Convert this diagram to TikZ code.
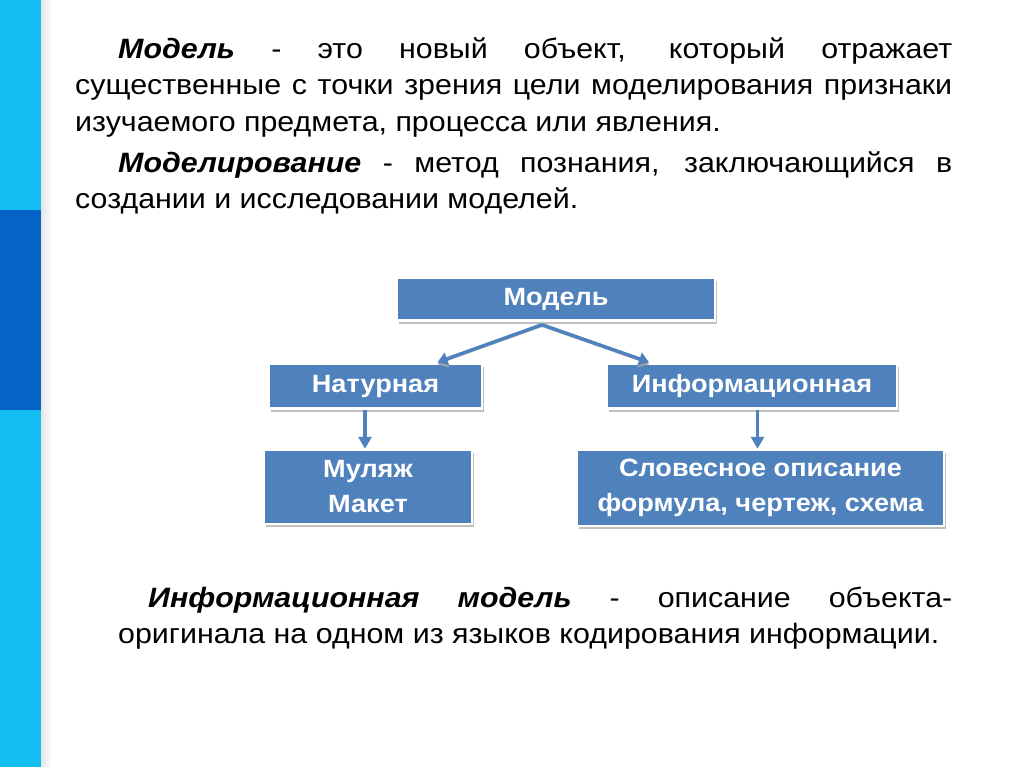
\documentclass[tikz,border=0pt]{standalone}
\usepackage{fontspec}
\setmainfont{Liberation Sans}[FakeStretch=1.085]
\usetikzlibrary{arrows.meta, shadows}
\definecolor{boxblue}{HTML}{4F81BD}
\definecolor{stripcyan}{HTML}{12BDEF}
\definecolor{stripdark}{HTML}{0562C6}

\begin{document}
\begin{tikzpicture}[
  x=1pt, y=-1pt,
  blk/.style={draw=white, line width=2.5pt, fill=boxblue, text=white,
              font=\fontsize{25}{35}\selectfont\bfseries, align=center,
              inner sep=0pt,
              drop shadow={shadow xshift=2pt, shadow yshift=-3pt,
                           opacity=0.35, fill=black!70}},
  para/.style={anchor=north west, inner sep=0pt, align=justify,
               font=\fontsize{28}{36.5}\selectfont},
  flow/.style={-{Triangle[width=13pt,length=10pt]}, line width=3.5pt, draw=boxblue,
               preaction={draw=black!35, transform canvas={yshift=-2pt}}},
  vflow/.style={-{Triangle[width=13pt,length=12pt]}, line width=3.2pt, draw=boxblue},
]
\useasboundingbox (0,0) rectangle (1024,767);
\fill[white] (0,0) rectangle (1024,767);

% --- side strip ---
\fill[stripcyan] (0,0) rectangle (41,767);
\fill[stripdark] (0,210) rectangle (41,410);
\shade[left color=black!10, right color=white] (41,0) rectangle (52,767);

% --- definitions ---
\node[para, text width=877pt] (defmod) at (75,32.5)
  {\strut\hspace*{43pt}\textbf{\textit{Модель}} - это новый объект, который отражает\linebreak
   существенные с точки зрения цели моделирования признаки\linebreak
   изучаемого предмета, процесса или явления.};
\node[para, text width=877pt] (defsim) at (75,146.5)
  {\strut\hspace*{43pt}\textbf{\textit{Моделирование}} - метод познания, заключающийся в\linebreak
   создании и исследовании моделей.};

% --- tree ---
\node[blk, minimum width=318pt, minimum height=43pt] (mod) at (556,299) {Модель};
\node[blk, minimum width=213pt, minimum height=45pt] (nat) at (375.5,386) {Натурная};
\node[blk, minimum width=290pt, minimum height=45pt] (inf) at (752,386) {Информационная};
\node[blk, minimum width=208pt, minimum height=74pt] (mul) at (368,487) {Муляж\\Макет};
\node[blk, minimum width=367pt, minimum height=76pt] (slov) at (760.5,488)
  {Словесное описание\\формула, чертеж, схема};

\coordinate (fork) at ([xshift=-14pt, yshift=-3pt]mod.south);
\draw[flow] (fork) -- ([xshift=62pt]nat.north);
\draw[flow] (fork) -- ([xshift=-103pt]inf.north);
\draw[vflow] ([xshift=-3pt]nat.south -| mul.north) -- ([xshift=-3pt]mul.north);
\draw[vflow] ([xshift=-3pt]inf.south -| slov.north) -- ([xshift=-3pt]slov.north);

% --- information model ---
\node[para, text width=834pt] (definf) at (118,581.5)
  {\strut\hspace*{30pt}\textbf{\textit{Информационная модель}} - описание объекта-\linebreak
   оригинала на одном из языков кодирования информации.};
\end{tikzpicture}
\end{document}
